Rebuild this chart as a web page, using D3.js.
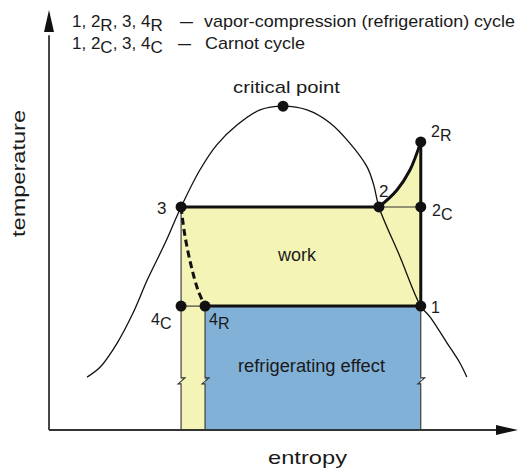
<!DOCTYPE html>
<html>
<head>
<meta charset="utf-8">
<script src="https://cdn.jsdelivr.net/npm/d3@7"></script>
<style>
  html, body { margin: 0; padding: 0; background: #fff; }
  svg { display: block; font-family: "Liberation Sans", Arial, Helvetica, sans-serif; }
</style>
</head>
<body>
<svg id="chart" width="520" height="471"></svg>
<script>
// ---- data (entropy s, temperature T in arbitrary units) ----
const domeS = [0.81, 1.09, 1.45, 1.79, 2.09, 2.47, 2.81, 3.21, 3.57, 4.00, 4.49, 4.98, 5.49, 5.98, 6.40, 6.77, 6.91, 7.02, 7.47, 7.91, 8.11, 8.47, 8.74, 8.89];
const domeT = [1.26, 1.50, 2.07, 2.79, 3.57, 4.45, 5.31, 6.19, 6.79, 7.26, 7.62, 7.71, 7.62, 7.31, 6.83, 6.26, 5.83, 5.31, 4.12, 2.95, 2.69, 2.07, 1.60, 1.26];
const compS = [7.02, 7.40, 7.68, 7.91];          // 2 -> 2R compression
const compT = [5.31, 5.71, 6.19, 6.86];
const expS  = [2.81, 2.89, 3.02, 3.17, 3.32];    // 3 -> 4R throttling (dashed)
const expT  = [5.31, 4.64, 3.93, 3.33, 2.95];
const pointNames = ["critical", "2R", "2", "2C", "3", "4C", "4R", "1"];
const pointS     = [4.98, 7.91, 7.02, 7.91, 2.81, 2.81, 3.32, 7.91];
const pointT     = [7.71, 6.86, 5.31, 5.31, 5.31, 2.95, 2.95, 2.95];
const T_high = 5.31, T_low = 2.95, T_break = 1.17;
const s3 = 2.81, s4R = 3.32, s2 = 7.02, s1 = 7.91;

const svg = d3.select("#chart");
const x = d3.scaleLinear().domain([0, 10]).range([49, 519]);
const y = d3.scaleLinear().domain([0, 10]).range([430, 10]);
const P = (s, t) => [x(s), y(t)];

const yellow = "#f4f4b6", blue = "#82b1d8", ink = "#111";
const cr = d3.line().curve(d3.curveCatmullRom.alpha(0.5));

// yellow area
const compPts = compS.map((s, i) => P(s, compT[i]));
const compPath = cr(compPts);
svg.append("path")
  .attr("d", `M${x(s3)},${y(T_high)}L` + compPath.slice(1) + `L${x(s1)},${y(0)}L${x(s3)},${y(0)}Z`)
  .attr("fill", yellow);
// blue area
svg.append("rect")
  .attr("x", x(s4R)).attr("y", y(T_low))
  .attr("width", x(s1) - x(s4R)).attr("height", y(0) - y(T_low))
  .attr("fill", blue);

// thin verticals with break marks
function breakLine(s, top) {
  const X = x(s), yb = y(T_break);
  return `M${X},${y(top)}V${yb - 3}H${X + 4}L${X - 3},${yb + 3}H${X}V${y(0)}`;
}
[[s3, T_high], [s4R, T_low], [s1, T_low]].forEach(([s, t]) => {
  svg.append("path").attr("d", breakLine(s, t))
    .attr("fill", "none").attr("stroke", "#333").attr("stroke-width", 1.1);
});
// thin horizontals
svg.append("line").attr("x1", x(s2)).attr("x2", x(s1)).attr("y1", y(T_high)).attr("y2", y(T_high))
  .attr("stroke", "#333").attr("stroke-width", 1.1);
svg.append("line").attr("x1", x(s3)).attr("x2", x(s4R)).attr("y1", y(T_low)).attr("y2", y(T_low))
  .attr("stroke", "#333").attr("stroke-width", 1.1);

// saturation dome
svg.append("path").attr("d", cr(domeS.map((s, i) => P(s, domeT[i]))))
  .attr("fill", "none").attr("stroke", ink).attr("stroke-width", 1.3);

// thick cycle lines
const thick = g => g.attr("fill", "none").attr("stroke", ink).attr("stroke-width", 3);
svg.append("path").attr("d", `M${x(s3)},${y(T_high)}H${x(s2)}`).call(thick);
svg.append("path").attr("d", compPath).call(thick);
svg.append("path").attr("d", `M${x(s1)},${y(compT[compT.length - 1])}V${y(T_low)}H${x(s4R)}`).call(thick);
svg.append("path").attr("d", cr(expS.map((s, i) => P(s, expT[i]))))
  .call(thick).attr("stroke-dasharray", "7,4");

// axes with arrows
const axisC = "#333";
svg.append("line").attr("x1", x(0)).attr("y1", y(0)).attr("x2", x(0)).attr("y2", y(9.4))
  .attr("stroke", axisC).attr("stroke-width", 1.8);
svg.append("line").attr("x1", x(0)).attr("y1", y(0)).attr("x2", x(9.6)).attr("y2", y(0))
  .attr("stroke", axisC).attr("stroke-width", 1.8);
svg.append("path").attr("d", `M${x(0)},${y(10)}L${x(0) + 5},${y(10) + 22}L${x(0) - 5},${y(10) + 22}Z`).attr("fill", "#111");
svg.append("path").attr("d", `M${x(10) - 1},${y(0)}L${x(10) - 23},${y(0) - 5}L${x(10) - 23},${y(0) + 5}Z`).attr("fill", "#111");

// dots
svg.selectAll("circle.pt").data(pointNames).join("circle")
  .attr("class", "pt")
  .attr("cx", (d, i) => x(pointS[i])).attr("cy", (d, i) => y(pointT[i]))
  .attr("r", 5.5).attr("fill", ink);

// ---- text ----
const txt = (xx, yy, str, size) => svg.append("text").attr("x", xx).attr("y", yy)
  .attr("font-size", size).attr("fill", "#1a1a1a").text(str);

// legend
function subLabel(xx, yy, parts, size) {
  const t = svg.append("text").attr("x", xx).attr("y", yy).attr("font-size", size).attr("fill", "#1a1a1a");
  let cur = 0;
  parts.forEach(([s, sub]) => {
    const off = sub ? 4 : 0;
    t.append("tspan").attr("dy", off - cur).text(s);
    cur = off;
  });
  return t;
}
subLabel(72, 27, [["1, 2", 0], ["R", 1], [", 3, 4", 0], ["R", 1]], 17);
txt(180, 27, "—", 17).attr("textLength", 13).attr("lengthAdjust", "spacingAndGlyphs");
txt(204, 27, "vapor-compression (refrigeration) cycle", 17).attr("textLength", 311).attr("lengthAdjust", "spacingAndGlyphs");
subLabel(72, 49, [["1, 2", 0], ["C", 1], [", 3, 4", 0], ["C", 1]], 17);
txt(178, 49, "—", 17).attr("textLength", 13).attr("lengthAdjust", "spacingAndGlyphs");
txt(205, 49, "Carnot cycle", 17).attr("textLength", 100).attr("lengthAdjust", "spacingAndGlyphs");

txt(233, 93, "critical point", 17).attr("textLength", 107).attr("lengthAdjust", "spacingAndGlyphs");
txt(278, 261, "work", 18);
txt(238, 372, "refrigerating effect", 18).attr("textLength", 147).attr("lengthAdjust", "spacingAndGlyphs");
txt(268, 464, "entropy", 19).attr("textLength", 79).attr("lengthAdjust", "spacingAndGlyphs");
svg.append("text").attr("transform", "translate(25,237) rotate(-90)")
  .attr("font-size", 19).attr("fill", "#1a1a1a")
  .attr("textLength", 127).attr("lengthAdjust", "spacingAndGlyphs").text("temperature");

// point labels
txt(157, 214, "3", 17);
txt(379, 197, "2", 17);
subLabel(431, 137, [["2", 0], ["R", 1]], 16);
subLabel(432, 216, [["2", 0], ["C", 1]], 16);
txt(431, 313, "1", 16);
subLabel(151, 325, [["4", 0], ["C", 1]], 16);
subLabel(209, 325, [["4", 0], ["R", 1]], 16);
</script>
</body>
</html>
